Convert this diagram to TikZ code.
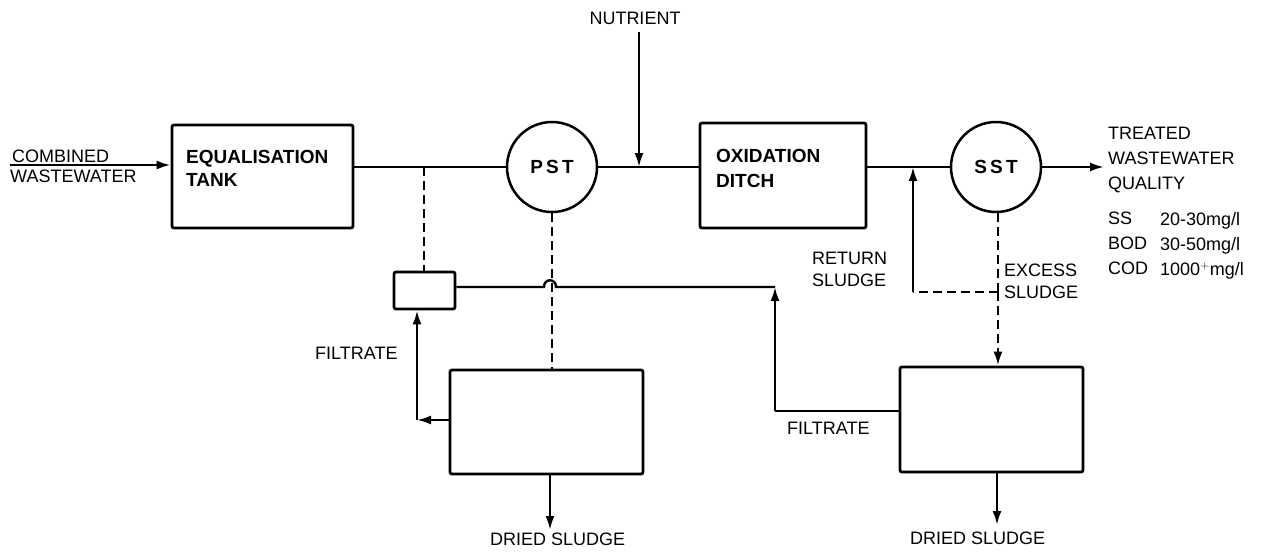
\documentclass[tikz,border=0pt]{standalone}
\usepackage{fontspec}
\setmainfont{Liberation Sans}
\usetikzlibrary{arrows.meta}
\begin{document}
\begin{tikzpicture}[x=1pt,y=-1pt,
  lbl/.style={font=\fontsize{18}{20}\selectfont, inner sep=0pt},
  ttl/.style={font=\fontsize{19}{22}\selectfont\bfseries, inner sep=0pt},
  box/.style={draw, line width=2.8pt, rounded corners=2pt, inner sep=0pt},
  tank/.style={draw, circle, line width=2.5pt, inner sep=0pt, minimum size=90pt},
  flow/.style={line width=2.4pt},
  dsh/.style={line width=2.4pt, dash pattern=on 9pt off 5pt},
  >={Latex[length=14pt,width=9pt]}]
\useasboundingbox (0,0) rectangle (1276,552);
% units / nodes
\node[box, minimum width=181pt, minimum height=103pt] (eq) at (262.5,176.5) {};
\node[box, minimum width=166pt, minimum height=105pt] (ox) at (783,175.5) {};
\node[tank] (pst) at (552,167) {};
\node[tank] (sst) at (996,167) {};
\node[box, minimum width=61pt, minimum height=37pt] (sb) at (424.5,290.5) {};
\node[box, minimum width=193pt, minimum height=104pt] (b1) at (546.5,422) {};
\node[box, minimum width=183pt, minimum height=105pt] (b2) at (991.5,419.5) {};
% texts
\node[lbl, anchor=north west] (t1) at (12,150) {COMBINED};
\node[lbl, anchor=north west] (t2) at (10,170) {WASTEWATER};
\node[ttl, anchor=north west] (t3) at (186,150) {EQUALISATION};
\node[ttl, anchor=north west] (t4) at (186,173) {TANK};
\node[ttl, anchor=north west] (t5) at (716,149) {OXIDATION};
\node[ttl, anchor=north west] (t6) at (716,174) {DITCH};
\node[ttl] (t7) at (pst) {P\,S\,T};
\node[ttl] (t8) at (sst) {S\,S\,T};
\node[lbl, anchor=north] (t9) at (635,12) {NUTRIENT};
\node[lbl, anchor=north west] (t10) at (1108,127) {TREATED};
\node[lbl, anchor=north west] (t11) at (1108,152) {WASTEWATER};
\node[lbl, anchor=north west] (t12) at (1108,177) {QUALITY};
\node[lbl, anchor=north west] (t13) at (1108,212) {SS};
\node[lbl, anchor=north west] (t14) at (1160,212) {20-30mg/l};
\node[lbl, anchor=north west] (t15) at (1108,237) {BOD};
\node[lbl, anchor=north west] (t16) at (1160,237) {30-50mg/l};
\node[lbl, anchor=north west] (t17) at (1108,262) {COD};
\node[lbl, anchor=north west] (t18) at (1160,262) {1000$^{+}$mg/l};
\node[lbl, anchor=north west] (t19) at (812,252) {RETURN};
\node[lbl, anchor=north west] (t20) at (812,274) {SLUDGE};
\node[lbl, anchor=north west] (t21) at (1004,264) {EXCESS};
\node[lbl, anchor=north west] (t22) at (1004,286) {SLUDGE};
\node[lbl, anchor=north west] (t23) at (315,347) {FILTRATE};
\node[lbl, anchor=north west] (t24) at (787,422) {FILTRATE};
\node[lbl, anchor=north west] (t25) at (490,533) {DRIED SLUDGE};
\node[lbl, anchor=north west] (t26) at (910,532) {DRIED SLUDGE};
% coordinates
\coordinate (in) at (10,165);
\coordinate (nut) at (639,32);
\coordinate (out) at (1104,167);
\coordinate (jl) at (424,167);
\coordinate (jn) at (639,167);
\coordinate (jr) at (913,167);
\coordinate (rc) at (913,292);
\coordinate (ec) at (998,292);
\coordinate (fa) at (775,287);
\coordinate (fb) at (775,411);
\coordinate (fl) at (417,420);
\coordinate (d1) at (550,530);
\coordinate (d2) at (997,525);
% main flow
\draw[flow,->] (in) -- (eq.west |- in);
\draw[flow] (eq.east |- pst) -- (pst.west);
\draw[flow] (pst.east) -- (ox.west |- pst);
\draw[flow] (ox.east |- sst) -- (sst.west);
\draw[flow,->] (sst.east) -- (out);
\draw[flow,->] (nut) -- (jn);
% sludge lines
\draw[dsh] (jl) -- (sb.north -| jl);
\draw[dsh] (pst.south) -- (b1.north -| pst);
\draw[dsh] (sst.south -| ec) -- (ec);
\draw[dsh,->] (ec) -- (b2.north -| ec);
\draw[dsh] (ec) -- (rc);
\draw[flow,->] (rc) -- (jr);
% filtrate lines
\draw[flow] (sb.east |- fa) -- (544,287) .. controls (544,278) and (556,278) .. (556,287) -- (fa);
\draw[flow] (b2.west |- fb) -- (fb);
\draw[flow,->] (fb) -- (fa);
\draw[flow,->] (b1.west |- fl) -- (fl);
\draw[flow,->] (fl) -- (sb.south -| fl);
% dried sludge
\draw[flow,->] (b1.south -| d1) -- (d1);
\draw[flow,->] (b2.south -| d2) -- (d2);
\end{tikzpicture}
\end{document}
